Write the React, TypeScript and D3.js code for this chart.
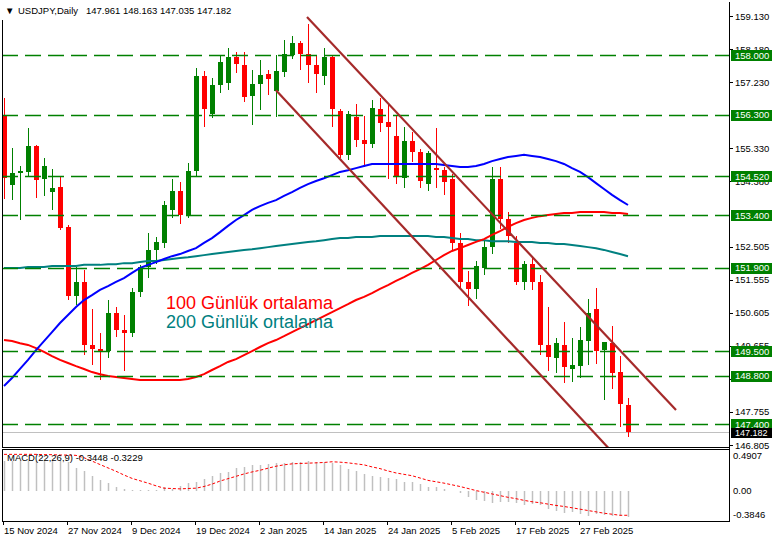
import React from 'react';
import * as d3 from 'd3';

const W = 775;
const H = 542;

const symbolTitle = 'USDJPY,Daily';
const headerValues = '147.961 148.163 147.035 147.182';
const macdTitle = 'MACD(22,26,9) -0.3448 -0.3229';

const dateLabels = ['15 Nov 2024', '27 Nov 2024', '9 Dec 2024', '19 Dec 2024', '2 Jan 2025', '14 Jan 2025', '24 Jan 2025', '5 Feb 2025', '17 Feb 2025', '27 Feb 2025'];
const dateLabelBars = [0, 8, 16, 24, 32, 40, 48, 56, 64, 72];

const opens = [156.26, 154.27, 154.62, 154.65, 155.39, 154.45, 154.07, 154.22, 153.07, 151.08, 151.49, 149.68, 149.56, 149.5, 150.6, 150.1, 150.02, 151.2, 151.92, 152.41, 152.61, 153.56, 154.1, 153.41, 154.68, 157.41, 156.31, 157.15, 157.2, 157.95, 157.72, 156.83, 157.18, 157.46, 156.97, 157.52, 158.01, 158.35, 158.04, 157.72, 157.41, 157.95, 156.4, 155.14, 156.23, 155.57, 155.45, 156.46, 156.08, 155.68, 154.47, 155.54, 155.22, 154.3, 154.76, 154.7, 154.45, 152.6, 151.5, 151.3, 151.9, 152.5, 154.45, 153.3, 152.6, 151.5, 152.0, 151.49, 149.68, 149.3, 149.68, 149.0, 149.07, 149.79, 150.71, 149.53, 149.73, 148.9, 147.961];
const highs = [156.77, 155.34, 154.82, 155.91, 155.42, 155.05, 154.73, 154.53, 153.12, 151.92, 151.83, 150.71, 150.02, 150.97, 150.77, 150.54, 151.31, 151.97, 152.89, 152.78, 153.81, 154.45, 154.36, 154.9, 157.65, 157.55, 157.35, 158.0, 158.2, 158.1, 158.1, 157.58, 157.87, 157.58, 158.01, 158.44, 158.56, 158.41, 158.9, 157.98, 158.21, 157.98, 156.46, 156.4, 156.6, 156.26, 156.72, 156.77, 156.63, 156.26, 155.94, 155.8, 155.3, 155.25, 155.91, 154.8, 154.6, 152.9, 151.8, 152.1, 152.7, 154.8, 154.8, 153.5, 152.8, 152.1, 152.2, 151.7, 150.77, 149.88, 150.34, 149.88, 150.19, 150.99, 151.31, 149.76, 150.22, 149.36, 148.163];
const lows = [153.87, 153.84, 153.27, 154.5, 153.9, 153.96, 153.56, 152.98, 150.97, 150.83, 149.39, 149.1, 148.67, 149.3, 149.91, 148.93, 149.91, 151.05, 151.6, 152.0, 152.46, 153.33, 153.15, 153.33, 154.5, 155.94, 156.2, 156.92, 157.0, 157.5, 156.66, 156.0, 156.43, 156.86, 156.23, 157.38, 157.89, 157.58, 157.2, 156.92, 157.15, 155.94, 155.05, 154.99, 155.37, 154.79, 155.34, 155.8, 154.45, 154.3, 154.2, 154.93, 154.2, 154.1, 154.2, 154.0, 152.4, 151.3, 150.8, 151.0, 151.7, 152.3, 153.0, 152.6, 151.4, 151.25, 151.25, 149.39, 148.93, 148.87, 148.58, 148.61, 148.73, 149.1, 149.13, 148.1, 148.41, 147.32, 147.035];
const closes = [154.47, 154.62, 154.68, 155.39, 154.42, 154.82, 154.19, 153.04, 151.08, 151.49, 149.68, 149.56, 149.5, 150.6, 150.1, 150.02, 151.2, 151.92, 152.41, 152.64, 153.7, 154.1, 153.41, 154.68, 157.41, 156.46, 157.15, 157.8, 157.95, 157.75, 156.8, 157.18, 157.43, 157.32, 157.55, 158.04, 158.35, 158.04, 157.72, 157.46, 157.95, 156.46, 155.14, 156.31, 155.57, 155.45, 156.49, 156.06, 155.94, 154.5, 155.54, 155.22, 154.4, 155.19, 154.7, 154.35, 152.6, 151.5, 151.3, 151.95, 152.5, 154.45, 153.3, 152.8, 151.5, 152.0, 151.5, 149.68, 149.33, 149.73, 149.04, 149.1, 149.82, 150.6, 149.5, 149.76, 148.87, 147.98, 147.182];

const ma50 = [148.5, 148.73, 148.99, 149.25, 149.53, 149.79, 150.05, 150.31, 150.54, 150.77, 150.97, 151.11, 151.26, 151.37, 151.49, 151.6, 151.75, 151.89, 151.98, 152.06, 152.15, 152.23, 152.29, 152.38, 152.46, 152.61, 152.75, 152.92, 153.1, 153.27, 153.41, 153.56, 153.67, 153.76, 153.84, 153.96, 154.07, 154.19, 154.3, 154.39, 154.47, 154.56, 154.65, 154.7, 154.76, 154.82, 154.88, 154.88, 154.88, 154.88, 154.88, 154.88, 154.88, 154.88, 154.88, 154.85, 154.82, 154.79, 154.79, 154.82, 154.88, 154.96, 155.02, 155.08, 155.11, 155.14, 155.11, 155.08, 155.02, 154.96, 154.88, 154.76, 154.65, 154.5, 154.33, 154.16, 153.99, 153.84, 153.7];
const ma100 = [149.82, 149.79, 149.73, 149.68, 149.59, 149.48, 149.36, 149.25, 149.16, 149.07, 148.99, 148.9, 148.84, 148.79, 148.76, 148.73, 148.7, 148.67, 148.67, 148.67, 148.67, 148.67, 148.67, 148.7, 148.76, 148.84, 148.96, 149.07, 149.19, 149.27, 149.39, 149.5, 149.62, 149.73, 149.82, 149.93, 150.05, 150.16, 150.28, 150.39, 150.51, 150.62, 150.74, 150.85, 150.97, 151.06, 151.17, 151.29, 151.4, 151.52, 151.63, 151.75, 151.86, 151.98, 152.12, 152.26, 152.38, 152.46, 152.55, 152.64, 152.72, 152.84, 152.95, 153.07, 153.18, 153.27, 153.33, 153.38, 153.41, 153.44, 153.47, 153.47, 153.5, 153.5, 153.5, 153.5, 153.47, 153.47, 153.44];
const ma200 = [151.89, 151.89, 151.89, 151.92, 151.92, 151.92, 151.95, 151.95, 151.95, 151.95, 151.98, 151.98, 151.98, 152.0, 152.0, 152.03, 152.03, 152.06, 152.09, 152.09, 152.12, 152.15, 152.18, 152.2, 152.23, 152.26, 152.29, 152.32, 152.35, 152.38, 152.41, 152.43, 152.46, 152.49, 152.52, 152.55, 152.58, 152.61, 152.64, 152.66, 152.69, 152.72, 152.75, 152.75, 152.78, 152.78, 152.78, 152.81, 152.81, 152.81, 152.81, 152.81, 152.81, 152.81, 152.78, 152.78, 152.75, 152.72, 152.72, 152.69, 152.69, 152.66, 152.66, 152.66, 152.64, 152.64, 152.64, 152.61, 152.61, 152.58, 152.58, 152.55, 152.52, 152.49, 152.46, 152.41, 152.35, 152.29, 152.23];

const macdMain = [0.385, 0.385, 0.385, 0.385, 0.385, 0.385, 0.385, 0.385, 0.371, 0.296, 0.261, 0.194, 0.133, 0.097, 0.049, 0.022, 0.002, 0.009, 0.002, 0.002, 0.04, 0.022, 0.062, 0.093, 0.106, 0.155, 0.186, 0.23, 0.243, 0.296, 0.309, 0.332, 0.34, 0.349, 0.358, 0.362, 0.367, 0.371, 0.38, 0.367, 0.367, 0.354, 0.332, 0.283, 0.261, 0.221, 0.194, 0.181, 0.164, 0.15, 0.115, 0.106, 0.084, 0.053, 0.04, 0.018, -0.002, -0.035, -0.08, -0.124, -0.137, -0.159, -0.15, -0.146, -0.168, -0.19, -0.177, -0.19, -0.243, -0.265, -0.292, -0.278, -0.309, -0.336, -0.309, -0.318, -0.332, -0.336, -0.3448];
const macdSignal = [0.473, 0.473, 0.473, 0.473, 0.473, 0.469, 0.469, 0.464, 0.464, 0.46, 0.429, 0.385, 0.34, 0.296, 0.252, 0.203, 0.159, 0.128, 0.097, 0.062, 0.031, 0.027, 0.022, 0.027, 0.031, 0.053, 0.084, 0.124, 0.155, 0.186, 0.217, 0.243, 0.265, 0.292, 0.318, 0.336, 0.349, 0.354, 0.358, 0.362, 0.367, 0.376, 0.371, 0.362, 0.349, 0.336, 0.309, 0.287, 0.256, 0.23, 0.212, 0.194, 0.164, 0.133, 0.115, 0.097, 0.075, 0.053, 0.027, 0.0, -0.022, -0.044, -0.066, -0.088, -0.106, -0.128, -0.146, -0.159, -0.177, -0.194, -0.208, -0.225, -0.243, -0.261, -0.278, -0.296, -0.309, -0.323, -0.3229];

const priceTicks = [159.13, 158.18, 157.23, 155.33, 154.38, 152.505, 151.555, 150.605, 149.655, 148.705, 147.755, 146.805];
const levelPrices = [158.0, 156.3, 154.52, 153.4, 151.9, 149.5, 148.8, 147.4];
const lastPrice = 147.182;
const macdTicks = [0.4907, 0.0, -0.3846];
const macdTickLabels = ['0.4907', '0.00', '-0.3846'];

const channelUpperBars = [37.875, 84];
const channelUpperPrices = [159.1, 147.81];
const channelLowerBars = [34, 75.75];
const channelLowerPrices = [157.0, 146.67];

const legendTexts = ['100 Günlük ortalama', '200 Günlük ortalama'];

const FONT = '"Liberation Sans", Arial, sans-serif';
const GREEN = '#008000';
const RED = '#ff0000';

export default function App() {
  const x = d3.scaleLinear().domain([0, 78]).range([4, 628]);
  const y = d3.scaleLinear().domain([146.805, 159.13]).range([445, 16]);
  const ym = d3.scaleLinear().domain([-0.3846, 0.4907]).range([520, 453]);

  const mainLeft = 2;
  const mainRight = 729;
  const mainBottom = 447;
  const macdTop = 450;
  const macdBottom = 521;

  const lineGen = (arr: number[]) =>
    d3.line<number>().x((_, i) => x(i)).y((v) => y(v))(arr) || '';
  const sigGen = d3.line<number>().x((_, i) => x(i)).y((v) => ym(v))(macdSignal) || '';

  const fmt3 = d3.format('.3f');

  // level label boxes on the price axis
  const boxes = levelPrices.map((p) => ({ p, top: Math.round(y(p)) - 5, h: 11 }));
  const lastBox = { top: Math.round(y(lastPrice)) - 4, h: 10 };

  // tick labels partly hidden by a level box: keep only the visible strip
  const tickInfo = priceTicks.map((p, i) => {
    const ty = y(p);
    const tTop = ty - 5;
    const tBot = ty + 5;
    const hit = boxes.find((b) => b.top < tBot && b.top + b.h > tTop);
    let clip: null | { y0: number; y1: number } = null;
    if (hit) {
      if (hit.top + hit.h / 2 > ty) clip = { y0: tTop - 2, y1: hit.top };
      else clip = { y0: hit.top + hit.h, y1: tBot + 2 };
    }
    return { p, ty, clip, id: `tclip${i}` };
  });

  return (
    <svg width={W} height={H} style={{ position: 'absolute', left: 0, top: 0, background: '#fff' }} fontFamily={FONT}>
      <defs>
        <clipPath id="mainClip">
          <rect x={mainLeft} y={0} width={mainRight - mainLeft} height={mainBottom} />
        </clipPath>
        <clipPath id="macdClip">
          <rect x={mainLeft} y={macdTop} width={mainRight - mainLeft} height={macdBottom - macdTop} />
        </clipPath>
        {tickInfo.filter((t) => t.clip).map((t) => (
          <clipPath key={t.id} id={t.id}>
            <rect x={730} y={t.clip!.y0} width={45} height={Math.max(0, t.clip!.y1 - t.clip!.y0)} />
          </clipPath>
        ))}
      </defs>
      <rect x={0} y={0} width={W} height={H} fill="#fff" />

      {/* current price line */}
      <line x1={mainLeft} x2={mainRight} y1={Math.round(y(lastPrice)) + 0.5} y2={Math.round(y(lastPrice)) + 0.5} stroke="#c0c0c0" strokeWidth={1} />

      {/* candles */}
      <g clipPath="url(#mainClip)">
        {opens.map((o, i) => {
          const c = closes[i];
          const up = c >= o;
          const col = up ? GREEN : RED;
          const cx = Math.round(x(i));
          const top = Math.round(y(Math.max(o, c)));
          const bot = Math.round(y(Math.min(o, c)));
          return (
            <g key={i}>
              <line x1={cx + 0.5} x2={cx + 0.5} y1={Math.round(y(highs[i]))} y2={Math.round(y(lows[i]))} stroke={col} strokeWidth={1} />
              <rect x={cx - 2} y={top} width={5} height={Math.max(1, bot - top)} fill={col} />
            </g>
          );
        })}
      </g>

      {/* moving averages */}
      <g clipPath="url(#mainClip)" fill="none" strokeWidth={2}>
        <path d={lineGen(ma200)} stroke="#008080" />
        <path d={lineGen(ma100)} stroke={RED} />
        <path d={lineGen(ma50)} stroke="#0000ff" />
      </g>

      {/* horizontal levels */}
      <g>
        {levelPrices.map((p, i) => (
          <line key={i} x1={mainLeft} x2={mainRight} y1={Math.round(y(p)) + 0.5} y2={Math.round(y(p)) + 0.5} stroke={GREEN} strokeWidth={1.3} strokeDasharray="16 7" />
        ))}
      </g>

      {/* channel lines */}
      <g clipPath="url(#mainClip)" stroke="#a52a2a" strokeWidth={2.2} fill="none">
        <line x1={x(channelUpperBars[0])} y1={y(channelUpperPrices[0])} x2={x(channelUpperBars[1])} y2={y(channelUpperPrices[1])} />
        <line x1={x(channelLowerBars[0])} y1={y(channelLowerPrices[0])} x2={x(channelLowerBars[1])} y2={y(channelLowerPrices[1])} />
      </g>

      {/* legend texts */}
      <text x={166} y={309} fontSize={18} fill={RED}>{legendTexts[0]}</text>
      <text x={166} y={328} fontSize={18} fill="#008080">{legendTexts[1]}</text>

      {/* header */}
      <text x={5} y={14} fontSize={9.5} fill="#000">{'\u25BC'}</text>
      <text x={18} y={14} fontSize={9.5} fill="#000">{symbolTitle}</text>
      <text x={86} y={14} fontSize={9.5} fill="#000">{headerValues}</text>

      {/* frames */}
      <line x1={mainLeft + 0.5} x2={mainLeft + 0.5} y1={20} y2={mainBottom} stroke="#000" />
      <line x1={mainLeft} x2={mainRight} y1={mainBottom + 0.5} y2={mainBottom + 0.5} stroke="#000" />
      <line x1={mainRight + 0.5} x2={mainRight + 0.5} y1={2} y2={macdBottom + 0.5} stroke="#000" />
      <rect x={mainLeft + 0.5} y={macdTop - 0.5} width={mainRight - mainLeft} height={macdBottom - macdTop + 1} fill="none" stroke="#000" />

      {/* right price axis */}
      <g fontSize={9.5} fill="#000">
        {tickInfo.map((t, i) => (
          <g key={i}>
            <line x1={mainRight} x2={mainRight + 4} y1={Math.round(t.ty) + 0.5} y2={Math.round(t.ty) + 0.5} stroke="#000" />
            <text x={735} y={t.ty + 3.5} clipPath={t.clip ? `url(#${t.id})` : undefined}>{fmt3(t.p)}</text>
          </g>
        ))}
      </g>
      {boxes.map((b, i) => (
        <g key={i}>
          <rect x={731} y={b.top} width={41} height={b.h} fill={GREEN} />
          <text x={735} y={y(b.p) + 3.5} fontSize={9.5} fill="#fff">{fmt3(b.p)}</text>
        </g>
      ))}
      <rect x={731} y={lastBox.top} width={41} height={lastBox.h} fill="#000" />
      <text x={735} y={y(lastPrice) + 4} fontSize={9} fill="#fff">{fmt3(lastPrice)}</text>

      {/* MACD panel */}
      <g clipPath="url(#macdClip)">
        {macdMain.map((v, i) => (
          <line key={i} x1={Math.round(x(i)) + 0.5} x2={Math.round(x(i)) + 0.5} y1={Math.round(ym(0))} y2={Math.round(ym(v))} stroke="#c0c0c0" strokeWidth={1.5} />
        ))}
        <path d={sigGen} fill="none" stroke={RED} strokeWidth={1} strokeDasharray="3 2" />
      </g>
      <text x={7} y={461} fontSize={9.5} fill="#000">{macdTitle}</text>
      <g fontSize={9.5} fill="#000">
        <text x={733} y={459}>{macdTickLabels[0]}</text>
        <text x={733} y={ym(macdTicks[1]) + 3.5}>{macdTickLabels[1]}</text>
        <text x={733} y={518}>{macdTickLabels[2]}</text>
      </g>

      {/* date axis */}
      <g fontSize={9.5} fill="#000">
        {dateLabelBars.map((b, i) => {
          const tx = Math.round(x(b)) - 1;
          return (
            <g key={i}>
              <line x1={tx + 0.5} x2={tx + 0.5} y1={macdBottom} y2={macdBottom + 4} stroke="#000" />
              <text x={tx + 1} y={534}>{dateLabels[i]}</text>
            </g>
          );
        })}
      </g>
    </svg>
  );
}
